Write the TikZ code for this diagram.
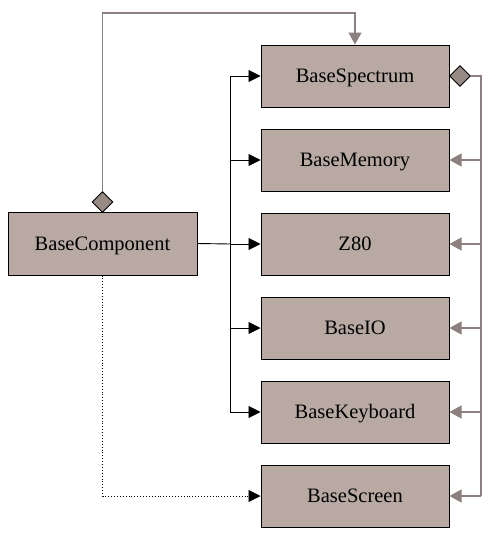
\documentclass[tikz,border=0pt]{standalone}
\usepackage{fontspec}
\setmainfont{Liberation Serif}
\usetikzlibrary{arrows.meta,shapes.geometric}
\definecolor{boxfill}{RGB}{184,170,163}
\definecolor{dia}{RGB}{151,138,132}
\definecolor{gline}{RGB}{140,128,128}
\tikzset{
  cls/.style={draw=black, line width=1pt, fill=boxfill, minimum width=188pt, minimum height=62pt, inner sep=0pt, text height=13.5pt, text depth=0pt, font=\fontsize{20.5}{24}\selectfont},
  blk/.style={draw=black, line width=0.9pt, -{Triangle[length=12pt,width=12pt]}},
  gry/.style={draw=gline, line width=1.2pt, -{Triangle[length=12pt,width=13pt,fill=gline]}},
  dmd/.style={draw=black, line width=0.9pt, fill=dia, diamond, minimum width=21pt, minimum height=21pt, inner sep=0pt},
}
\begin{document}
\begin{tikzpicture}[x=1pt,y=-1pt]
\useasboundingbox (0,0) rectangle (499,533);
\node[cls] (spec) at (355,76) {BaseSpectrum};
\node[cls] (mem) at (355,160) {BaseMemory};
\node[cls] (z80) at (355,244) {Z80};
\node[cls] (io) at (355,328) {BaseIO};
\node[cls] (kbd) at (355,412) {BaseKeyboard};
\node[cls] (scr) at (355,496) {BaseScreen};
\node[cls, minimum width=189pt, minimum height=63pt] (comp) at (102.5,243.5) {BaseComponent};
\node[dmd] (d1) at (102.5,202) {};
\node[dmd] (d2) at (460,76) {};
% composition from component to spectrum
\coordinate (t1) at (102.5,13);
\coordinate (t2) at (355,13);
\draw[gry] (d1.north) -- (t1) -- (t2) -- (spec.north);
% right bus
\coordinate (r0) at (481,76);
\coordinate (rb) at (481,496);
\draw[draw=gline, line width=1.2pt] (d2.east) -- (r0) -- (rb);
\foreach \n in {mem,z80,io,kbd,scr}{
  \draw[gry] (\n.east -| r0) -- (\n.east);
}
% left black bus
\coordinate (b0) at (230,244);
\draw[line width=0.9pt] (comp.east) -- (b0);
\draw[line width=0.9pt] (230,76) -- (230,412);
\foreach \n in {spec,mem,z80,io,kbd}{
  \draw[blk] (\n.west -| b0) -- (\n.west);
}
% dotted
\coordinate (dd) at (102.5,496);
\draw[line width=0.9pt, dotted, -{Triangle[length=12pt,width=12pt]}] (comp.south) -- (dd) -- (scr.west);
\end{tikzpicture}
\end{document}
